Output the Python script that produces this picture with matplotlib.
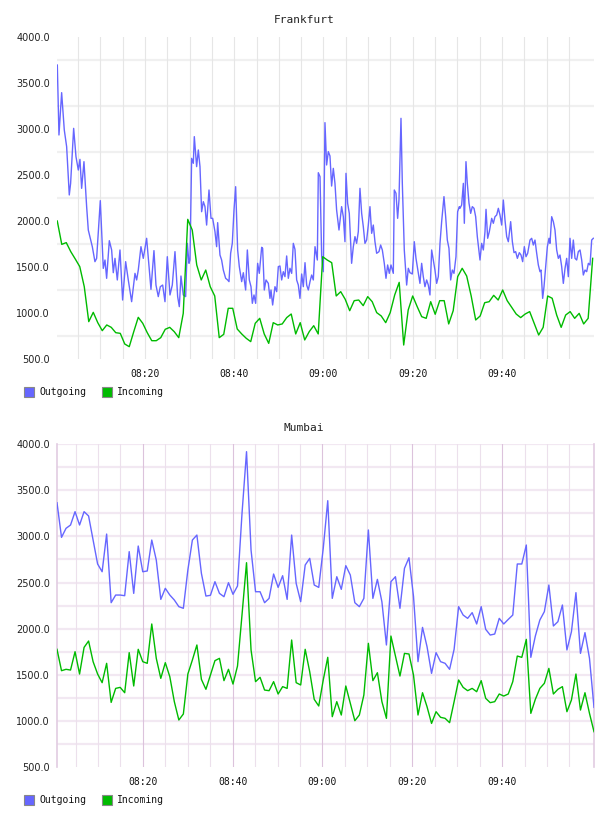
import numpy as np
import matplotlib
matplotlib.use("Agg")
import matplotlib.pyplot as plt
from matplotlib.patches import Rectangle

# ---------------- data (minutes after 08:00, values) ----------------
# Frankfurt outgoing, read in four chunks
fra_out_t1 = [0.37,0.74,1.34,1.93,2.46,3.05,3.35,4.03,4.55,5.07,5.44,5.82,6.34,6.94,7.31,8.21,8.8,9.18,10.0,10.67,11.05,11.42,12.02,12.54,12.91,13.29,13.81,14.41,15.0,15.68,16.27,17.02,17.77,18.14,18.51,19.11,19.63,20.38,21.35,22.02,22.47,22.99,23.44,23.97,24.49,25.01,25.61,26.13,26.73,27.33,27.7,28.07,28.59,29.12,29.49,29.87]
fra_out_v1 = [3695,2935,3395,2990,2808,2283,2410,3007,2700,2554,2670,2355,2645,2156,1902,1721,1558,1594,2221,1485,1576,1377,1786,1685,1438,1594,1359,1685,1141,1558,1359,1123,1431,1359,1467,1721,1594,1812,1257,1678,1304,1178,1286,1304,1123,1612,1196,1304,1667,1178,1069,1402,1196,1178,1757,1540]
fra_out_t2 = [30.09,30.46,30.84,31.06,31.58,31.96,32.33,32.7,33.08,33.45,33.82,34.35,34.8,35.17,35.69,36.06,36.29,36.81,37.18,37.56,38.08,38.53,38.83,39.2,39.57,39.95,40.32,40.77,41.14,41.67,42.04,42.56,42.94,43.38,43.76,44.06,44.43,44.8,45.25,45.62,46.15,46.37,46.74,47.12,47.64,48.01,48.24,48.61,49.13,49.51,49.88,50.25,50.63,51.0,51.37,51.75,52.12,52.49,52.87,53.24,53.61,53.99,54.36,54.73,55.11,55.48,55.86,56.23,56.6,56.98,57.35,57.72,58.1,58.62,58.84,59.22,59.59,59.96]
fra_out_v2 = [1576,2681,2627,2917,2591,2772,2591,2101,2210,2156,1956,2337,2029,2029,1884,1721,1982,1630,1576,1467,1377,1359,1341,1649,1757,2119,2373,1685,1504,1341,1438,1250,1685,1359,1286,1105,1196,1105,1540,1431,1714,1703,1250,1359,1322,1159,1250,1087,1286,1232,1504,1511,1359,1449,1395,1620,1377,1486,1431,1757,1692,1359,1304,1159,1424,1286,1547,1304,1250,1341,1413,1359,1721,1576,2525,2482,1612,1449]
fra_out_t3 = [60.33,60.7,61.08,61.45,61.82,62.2,62.57,62.94,63.47,64.06,64.44,64.81,65.04,65.41,65.78,66.3,66.68,67.05,67.42,67.8,68.17,68.55,68.92,69.29,69.67,70.04,70.41,70.79,71.16,71.53,71.91,72.43,72.8,73.18,73.62,74.0,74.37,74.74,75.12,75.64,75.86,76.24,76.61,76.91,77.36,77.66,78.1,78.63,79.0,79.37,79.9,80.34,80.72,81.24,81.61,81.99,82.36,82.73,83.11,83.48,83.85,84.23,84.6,84.97,85.35,85.72,86.1,86.47,86.99,87.37,87.74,88.11,88.49,88.86,89.23,89.68,90.05,90.43]
fra_out_v3 = [3069,2609,2754,2707,2380,2572,2409,2119,1902,2156,2047,1775,2518,2192,2083,1540,1721,1830,1757,1884,2355,2083,1938,1757,1793,1956,2156,1866,1956,1775,1649,1667,1739,1685,1540,1377,1522,1431,1522,1431,2337,2301,2029,2228,3116,2409,1685,1304,1486,1438,1424,1775,1594,1431,1322,1540,1395,1286,1359,1304,1196,1685,1576,1467,1322,1395,1757,1993,2265,2047,1793,1703,1359,1467,1431,1612,2101,2156]
fra_out_t4 = [90.58,90.95,91.33,91.55,91.92,92.22,92.6,92.97,93.34,93.72,94.09,94.46,94.84,95.06,95.43,95.81,96.18,96.41,96.78,97.15,97.68,98.05,98.42,98.8,99.17,99.54,99.92,100.29,100.66,101.04,101.41,101.93,102.31,102.68,103.05,103.43,103.87,104.25,104.62,104.99,105.37,105.74,106.26,106.64,107.01,107.38,107.76,108.13,108.5,108.73,109.1,109.4,109.77,110.15,110.52,110.74,111.12,111.49,111.86,112.24,112.61,112.98,113.36,113.73,114.11,114.48,114.85,115.22,115.6,115.97,116.35,116.72,117.09,117.47,117.84,118.21,118.59,118.96,119.34,119.71,120.08,120.45]
fra_out_v4 = [2138,2174,2409,1975,2645,2409,2192,2083,2156,2138,2047,1830,1667,1576,1757,1685,1884,2127,1812,1884,2029,1975,2047,2065,2138,2065,1956,2228,2011,1830,1775,1993,1775,1656,1667,1594,1656,1630,1558,1721,1612,1649,1793,1812,1739,1793,1649,1522,1449,1467,1159,1286,1504,1721,1812,1757,2047,1993,1902,1685,1594,1630,1504,1322,1486,1594,1395,1812,1594,1793,1594,1576,1667,1685,1576,1413,1467,1449,1540,1522,1793,1812]

# Frankfurt incoming, one sample per minute
fra_in_first, fra_in_last = 0.36, 120.3
fra_in_v = [2000,1746,1765,1667,1587,1504,1286,906,1007,895,808,870,844,786,779,663,634,797,953,888,786,699,699,732,823,844,797,732,996,2018,1902,1522,1359,1467,1286,1185,732,768,1051,1051,826,772,725,689,888,942,772,670,895,870,881,950,989,772,895,
            707,797,862,772,1612,1576,1547,1185,1232,1149,1025,1134,1141,1080,1178,1123,1004,968,895,1004,1196,1333,652,1033,1185,1069,960,942,1123,986,1134,1134,881,1025,1395,1486,1402,1185,924,968,1112,1123,1192,1141,1250,1134,1062,989,950,989,1015,888,761,844,1185,1160,978,844,978,1015,942,996,881,942,1594]

# Mumbai, one sample per minute
mum_first, mum_last = 0.86, 120.48
mum_out_v = [3366,2990,3088,3124,3269,3124,3269,3222,2961,2701,2617,3026,2281,2364,2364,2357,2835,2382,2896,2617,2625,2961,2744,2317,2437,2364,2310,2238,2220,2636,2961,3015,2599,2353,2361,2509,2382,2346,2498,2372,2462,3251,3920,2853,2400,2400,2281,2328,2592,2447,2574,2317,3015,2491,2292,
             2690,2762,2473,2447,2871,3388,2328,2563,2426,2683,2581,2281,2238,2328,3070,2328,2534,2290,1822,2509,2563,2220,2654,2769,2350,1641,2013,1804,1514,1739,1641,1623,1558,1775,2238,2147,2111,2173,2050,2238,1992,1930,1941,2111,2050,2100,2147,2701,2701,2907,1688,1919,2093,2184,2473,2028,2075,2256,1768,1966,2390,1731,1956,1677,1145]
mum_in_v = [1775,1543,1558,1550,1749,1507,1796,1865,1641,1507,1413,1623,1199,1351,1362,1304,1739,1377,1775,1641,1623,2050,1677,1460,1630,1478,1207,1008,1073,1507,1659,1822,1449,1341,1496,1652,1677,1435,1558,1398,1594,2150,2715,1768,1424,1471,1333,1326,1424,1290,1370,1351,1876,1413,1388,
            1775,1532,1232,1160,1442,1688,1044,1207,1062,1377,1189,1000,1062,1279,1840,1435,1521,1207,1026,1919,1702,1485,1731,1724,1496,1062,1304,1152,971,1098,1037,1026,979,1207,1442,1362,1326,1351,1315,1435,1243,1196,1207,1290,1268,1290,1424,1702,1688,1883,1080,1232,1351,1406,1568,1290,1341,1370,1098,1225,1507,1116,1304,1080,881]

x_tick_minutes = [20, 40, 60, 80, 100]
x_tick_labels = ["08:20", "08:40", "09:00", "09:20", "09:40"]
y_ticks = [500, 1000, 1500, 2000, 2500, 3000, 3500, 4000]
series_names = ["Outgoing", "Incoming"]
titles = ["Frankfurt", "Mumbai"]

# ---------------- styling ----------------
C_OUT = "#6666ff"
C_IN = "#00bb00"
W, H = 608, 816
MONO = "DejaVu Sans Mono"

fig = plt.figure(figsize=(W / 100, H / 100), dpi=100)

def fx(px):
    return px / W

def fy(py):
    return 1 - py / H

fra_out_t = fra_out_t1 + fra_out_t2 + fra_out_t3 + fra_out_t4
fra_out_v = fra_out_v1 + fra_out_v2 + fra_out_v3 + fra_out_v4
fra_in_t = np.linspace(fra_in_first, fra_in_last, len(fra_in_v))
mum_t = np.linspace(mum_first, mum_last, len(mum_out_v))

panels = [
    dict(title=titles[0], top=37.0, bottom=359.0, xlim=(0.3, 120.6),
         out=(fra_out_t, fra_out_v), inc=(fra_in_t, fra_in_v), style="fra",
         title_y=20, legend_y=392),
    dict(title=titles[1], top=444.3, bottom=766.8, xlim=(mum_first, mum_last),
         out=(mum_t, mum_out_v), inc=(mum_t, mum_in_v), style="mum",
         title_y=428, legend_y=800),
]

L, R = 57, 594
for p in panels:
    ax = fig.add_axes([fx(L), fy(p["bottom"]), fx(R - L), (p["bottom"] - p["top"]) / H])
    ax.set_xlim(*p["xlim"])
    ax.set_ylim(500, 4000)
    for s in ax.spines.values():
        s.set_visible(False)

    minutes_grid = np.arange(5, 120, 5)
    if p["style"] == "fra":
        for yv in np.arange(750, 4000, 500):
            ax.axhline(yv, color="#f0f0f0", lw=1.6, zorder=0)
        for m in minutes_grid:
            ax.axvline(m, color="#e6e6e6", lw=0.8, zorder=0)
    else:
        for yv in np.arange(750, 4001, 250):
            ax.axhline(yv, color="#f2e8f2", lw=1.6, zorder=0)
        for m in minutes_grid:
            major = m % 20 == 0
            ax.axvline(m, color="#dcc3dc" if major else "#ece0ec", lw=0.8, zorder=0.5)
        for side in ("left", "right"):
            ax.spines[side].set_visible(True)
            ax.spines[side].set_color("#e2cce2")
            ax.spines[side].set_linewidth(1.2)

    ax.plot(p["out"][0], p["out"][1], color=C_OUT, lw=1.0, zorder=3)
    ax.plot(p["inc"][0], p["inc"][1], color=C_IN, lw=1.0, zorder=3)

    ax.set_yticks(y_ticks)
    ax.set_yticklabels([f"{v:.1f}" for v in y_ticks], fontsize=7, color="#222222")
    ax.set_xticks(x_tick_minutes)
    ax.set_xticklabels(x_tick_labels, fontsize=7, family=MONO, color="#111111")
    ax.tick_params(axis="both", length=0)
    ax.tick_params(axis="y", pad=5)
    ax.tick_params(axis="x", pad=7)

    fig.text(0.5, fy(p["title_y"]), p["title"], ha="center", va="center",
             family=MONO, fontsize=8, color="#222222")

    ly = p["legend_y"]
    for x0, col, name in [(24, C_OUT, series_names[0]), (102, C_IN, series_names[1])]:
        fig.add_artist(Rectangle((fx(x0), fy(ly + 5)), fx(10), 10 / H,
                                 facecolor=col, edgecolor="#888888", lw=0.8,
                                 transform=fig.transFigure))
        fig.text(fx(x0 + 15), fy(ly), name, ha="left", va="center",
                 family=MONO, fontsize=7, color="#111111")

fig.savefig("out.png", dpi=100, facecolor="white")
